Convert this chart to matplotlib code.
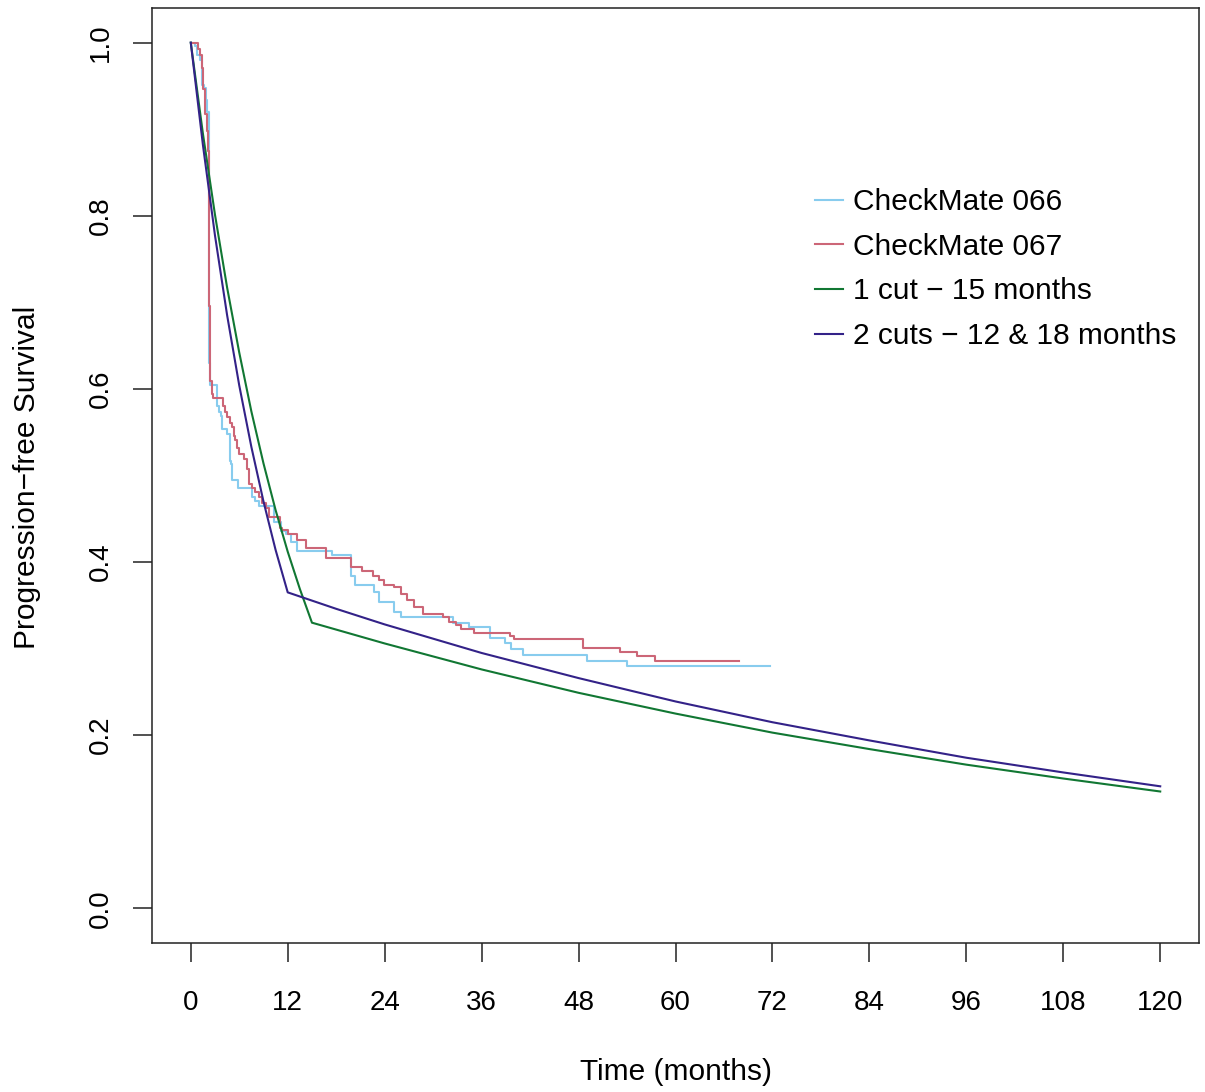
import matplotlib
matplotlib.use("Agg")
import matplotlib.pyplot as plt

plt.rcParams['font.family'] = ['Liberation Sans', 'DejaVu Sans']

# ---- Kaplan-Meier step data ----
cm066_t = [0, 0.5, 0.75, 1.1, 1.4, 1.6, 1.9, 2.0, 2.25, 2.4, 3.3, 3.5, 3.7, 3.9, 4.5, 4.8,
           5.0, 5.1, 5.8, 7.6, 8.0, 8.4, 10.3, 11.2, 11.75, 12.4, 13.2, 17.5, 19.8, 20.3,
           22.7, 23.3, 25.2, 26.0, 32.4, 34.5, 37.1, 38.9, 39.6, 41.1, 49.0, 54.0, 71.7]
cm066_s = [1.0, 0.996, 0.986, 0.98, 0.951, 0.948, 0.934, 0.92, 0.63, 0.604, 0.580, 0.573,
           0.569, 0.554, 0.548, 0.517, 0.513, 0.495, 0.486, 0.475, 0.470, 0.465, 0.446,
           0.436, 0.432, 0.423, 0.413, 0.408, 0.384, 0.373, 0.366, 0.354, 0.342, 0.336,
           0.330, 0.325, 0.3125, 0.306, 0.300, 0.293, 0.286, 0.280, 0.280]

cm067_t = [0, 0.95, 1.2, 1.36, 1.56, 1.77, 1.98, 2.18, 2.27, 2.39, 2.6, 2.8, 4.05, 4.2,
           4.5, 4.9, 5.1, 5.4, 5.5, 5.7, 6.0, 6.6, 6.9, 7.2, 7.6, 8.0, 8.4, 8.8, 9.3, 9.7,
           11.0, 11.3, 12.0, 13.2, 14.3, 16.7, 19.8, 21.2, 22.5, 23.3, 23.9, 25.1, 26.0,
           26.8, 27.6, 28.8, 31.2, 32.0, 32.8, 33.4, 35.1, 39.5, 40.0, 48.5, 53.1, 55.2,
           57.5, 67.9]
cm067_s = [1.0, 0.993, 0.986, 0.971, 0.946, 0.917, 0.898, 0.875, 0.696, 0.609, 0.594,
           0.589, 0.580, 0.573, 0.567, 0.561, 0.556, 0.546, 0.541, 0.532, 0.525, 0.519,
           0.5075, 0.490, 0.486, 0.481, 0.475, 0.468, 0.462, 0.452, 0.439, 0.437, 0.4325,
           0.425, 0.416, 0.405, 0.394, 0.390, 0.384, 0.379, 0.373, 0.371, 0.363, 0.356,
           0.348, 0.340, 0.336, 0.331, 0.327, 0.323, 0.318, 0.315, 0.311, 0.301, 0.296,
           0.292, 0.286, 0.286]

# ---- Model curves ----
cut1_t = [0, 1.5, 3, 4.5, 6, 7.5, 9, 10.5, 12, 13.5, 15, 24, 36, 48, 60, 72, 84, 96,
          108, 120]
cut1_s = [1.0, 0.895, 0.801, 0.717, 0.642, 0.574, 0.514, 0.460, 0.412, 0.369, 0.330,
          0.306, 0.276, 0.249, 0.225, 0.203, 0.184, 0.166, 0.150, 0.135]

cut2_t = [0, 1.5, 3, 4.5, 6, 7.5, 9, 10.5, 12, 18, 24, 36, 48, 60, 72, 84, 96, 108, 120]
cut2_s = [1.0, 0.882, 0.777, 0.685, 0.604, 0.533, 0.470, 0.414, 0.365, 0.346, 0.328,
          0.295, 0.266, 0.239, 0.215, 0.194, 0.174, 0.157, 0.141]

labels = ["CheckMate 066", "CheckMate 067", "1 cut \u2212 15 months",
          "2 cuts \u2212 12 & 18 months"]
colors = ["#88CCEE", "#CC6677", "#117733", "#332288"]
xticks = [0, 12, 24, 36, 48, 60, 72, 84, 96, 108, 120]
yticks = [0.0, 0.2, 0.4, 0.6, 0.8, 1.0]

fig = plt.figure(figsize=(12.05, 10.92), dpi=100)
ax = fig.add_axes([152/1205, 1-943/1092, (1199-152)/1205, (943-8)/1092])

lw = 1.5
ax.step(cm066_t, cm066_s, where='post', color=colors[0], lw=lw, label=labels[0])
ax.step(cm067_t, cm067_s, where='post', color=colors[1], lw=lw, label=labels[1])
ax.plot(cut1_t, cut1_s, color=colors[2], lw=lw, label=labels[2])
ax.plot(cut2_t, cut2_s, color=colors[3], lw=lw, label=labels[3])

ax.set_xlim(-4.8, 124.8)
ax.set_ylim(-0.04, 1.04)
ax.set_xticks(xticks)
ax.set_xticklabels([str(v) for v in xticks])
ax.set_yticks(yticks)
ax.set_yticklabels([f"{v:.1f}" for v in yticks], rotation=90, va='center')
ax.tick_params(axis='both', direction='out', length=13.7, width=1.1, labelsize=20,
               color='#222222')
ax.tick_params(axis='x', pad=20)
ax.tick_params(axis='y', pad=14)
for sp in ax.spines.values():
    sp.set_linewidth(1.1)
    sp.set_color('#222222')

fig.text(676/1205, 1-1072/1092, "Time (months)", ha='center', va='center', fontsize=21.5)
fig.text(27/1205, 1-477/1092, "Progression\u2212free Survival", ha='center', va='center',
         rotation=90, fontsize=21.5)

leg = ax.legend(loc='upper left', bbox_to_anchor=((815-152)/1047, (943-188)/935),
                frameon=False, fontsize=21.5, handlelength=0.95, handletextpad=0.33,
                labelspacing=0.56, borderpad=0, borderaxespad=0)

fig.savefig("out.png", dpi=100)
